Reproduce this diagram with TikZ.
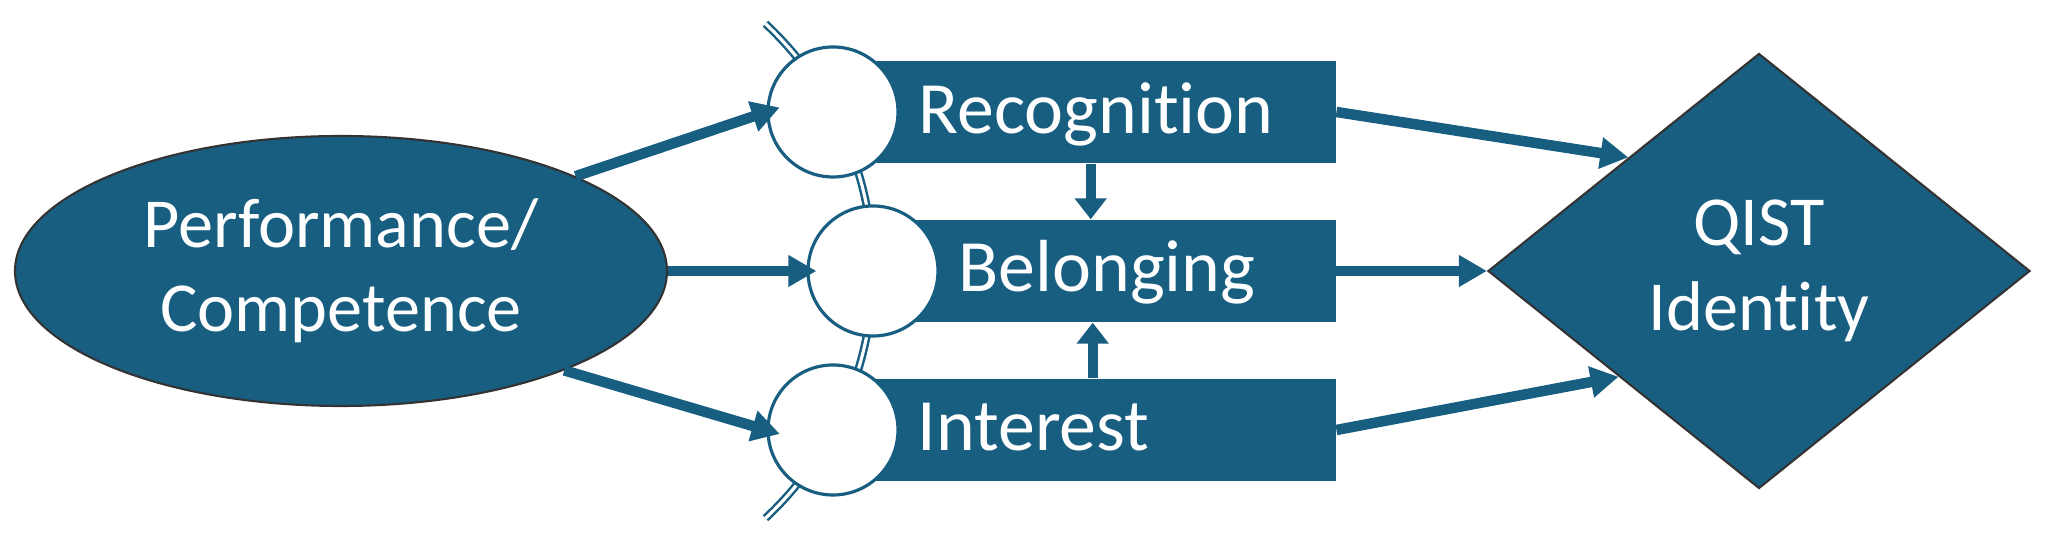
\documentclass[tikz,border=0pt]{standalone}
\usepackage{fontspec}
\setmainfont{Carlito}[Ligatures={NoCommon}]
\usetikzlibrary{shapes.geometric,arrows.meta}
\definecolor{qblue}{RGB}{24,94,129}
\begin{document}
\begin{tikzpicture}
\tikzstyle{el} = [ellipse,draw=black!80,line width=0.6pt,fill=qblue,text=white,align=center,inner sep=0pt,minimum width=6.52cm,minimum height=2.7cm,font=\fontsize{20}{24}\selectfont] %source
\tikzstyle{dm} = [diamond,draw=black!80,line width=0.6pt,fill=qblue,text=white,align=center,inner sep=0pt,minimum width=5.42cm,minimum height=4.35cm,font=\fontsize{20}{24}\selectfont] %outcome
\tikzstyle{cx} = [circle,draw=qblue,line width=0.9pt,fill=white,minimum size=1.3cm,inner sep=0pt] %cycle step
\tikzstyle{bx} = [rectangle,fill=qblue,minimum height=1.02cm,anchor=west,inner sep=0pt] %bar
\tikzstyle{tx} = [text=white,anchor=west,inner sep=0pt,text height=0.47cm,text depth=0pt,font=\fontsize{21}{25}\selectfont] %bar text
\tikzstyle{de} = [-{Triangle[length=0.28cm,width=0.3cm]},line width=0.105cm,qblue] %directed edge
\tikzstyle{ve} = [-{Triangle[length=0.21cm,width=0.31cm]},line width=0.1cm,qblue] %vertical edge
\tikzstyle{cy} = [qblue,line width=0.7pt,double=white,double distance=0.9pt] %cycle arc
\useasboundingbox(0,0)rectangle(20.51,5.46);
\coordinate(ac)at(5.35,2.75);
\draw[cy](ac)++(-47:3.38)arc[start angle=-47,end angle=47,radius=3.38];
\node[bx,minimum width=5.02cm](br)at(8.33,4.34){};
\node[bx,minimum width=4.62cm](bb)at(8.73,2.75){};
\node[bx,minimum width=5.02cm](bi)at(8.33,1.16){};
\node[cx](cr)at(8.33,4.34){};
\node[cx](cb)at(8.73,2.75){};
\node[cx](ci)at(8.33,1.16){};
\node[tx](tr)at(9.18,4.36){Recognition};
\node[tx](tb)at(9.58,2.78){Belonging};
\node[tx](ti)at(9.17,1.19){Interest};
\node[el](pc)at(3.41,2.75){Performance/\\Competence};
\node[dm](qi)at(17.59,2.75){QIST\\Identity};
\draw[de,shorten >=-0.14cm](pc.22)--(cr.west);
\draw[de,shorten >=-0.1cm](pc.east)--(cb.west);
\draw[de,shorten >=-0.14cm](pc.-24)--(ci.west);
\draw[ve]([xshift=0.06cm]br.south)--([xshift=0.06cm]br.south|-bb.north);
\draw[ve]([xshift=0.08cm]bi.north)--([xshift=0.08cm]bi.north|-bb.south);
\draw[de](br.east)--(qi.139);
\draw[de](bb.east)--(qi.west);
\draw[de](bi.east)--(qi.217);
\end{tikzpicture}
\end{document}
